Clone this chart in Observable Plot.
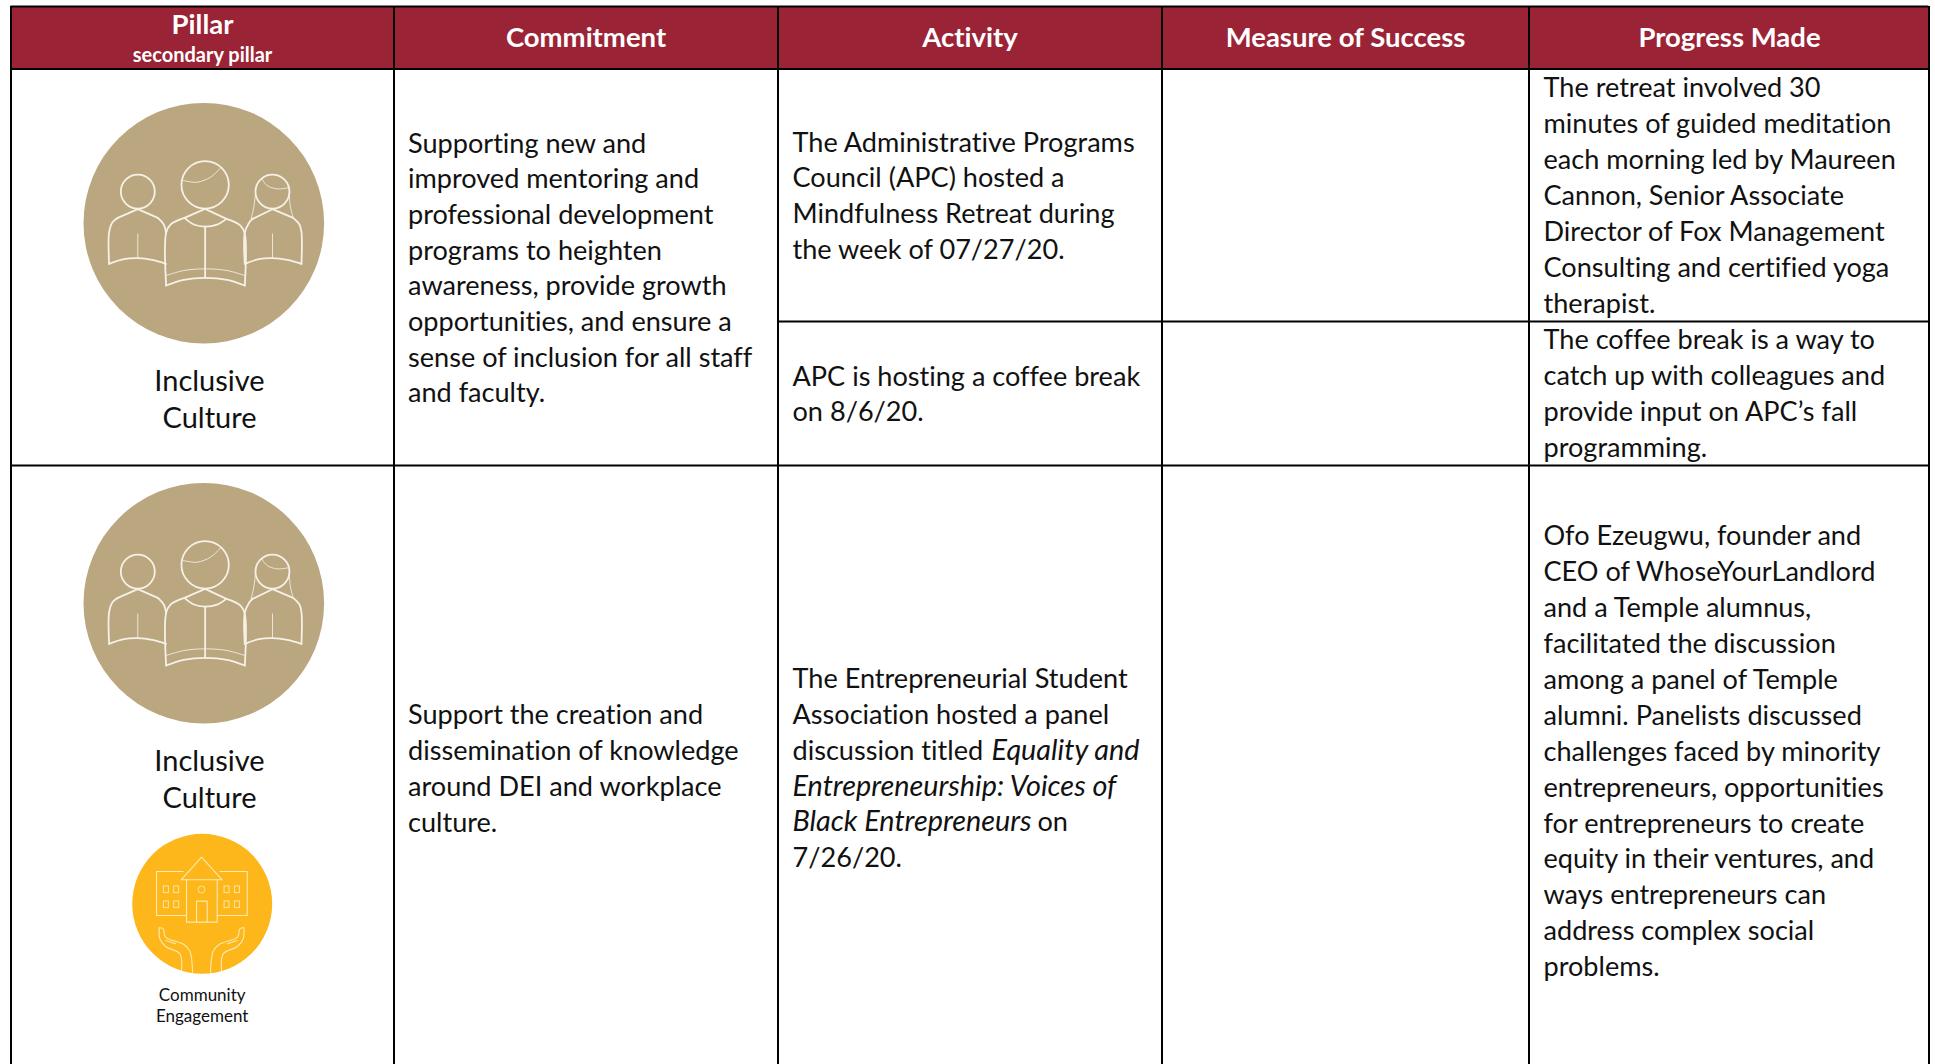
<!DOCTYPE html>
<html>
<head>
<meta charset="utf-8">
<script src="https://cdn.jsdelivr.net/npm/d3@7"></script>
<script src="https://cdn.jsdelivr.net/npm/@observablehq/plot@0.6"></script>
<style>
html,body{margin:0;padding:0;background:#fff;overflow:hidden}
svg{display:block;font-variant-ligatures:none}
</style>
</head>
<body>
<div id="chart"></div>
<script>
// ---- table content ----
const headers = ["Pillar", "Commitment", "Activity", "Measure of Success", "Progress Made"];
const subHeader = "secondary pillar";
const primaryPillar = ["Inclusive", "Culture"];
const secondaryPillar = ["Community", "Engagement"];

const commitmentA = ["Supporting new and", "improved mentoring and", "professional development", "programs to heighten",
  "awareness, provide growth", "opportunities, and ensure a", "sense of inclusion for all staff", "and faculty."];
const commitmentB = ["Support the creation and", "dissemination of knowledge", "around DEI and workplace", "culture."];

const activityA = ["The Administrative Programs", "Council (APC) hosted a", "Mindfulness Retreat during", "the week of 07/27/20."];
const activityB = ["APC is hosting a coffee break", "on 8/6/20."];
const activityC = ["The Entrepreneurial Student", "Association hosted a panel", "discussion titled", null, null, "7/26/20."];
const activityCItalic = [null, null, null, "Entrepreneurship: Voices of", "Black Entrepreneurs", null];

const progressA = ["The retreat involved 30", "minutes of guided meditation", "each morning led by Maureen", "Cannon, Senior Associate",
  "Director of Fox Management", "Consulting and certified yoga", "therapist."];
const progressB = ["The coffee break is a way to", "catch up with colleagues and", "provide input on APC\u2019s fall", "programming."];
const progressC = ["Ofo Ezeugwu, founder and", "CEO of WhoseYourLandlord", "and a Temple alumnus,", "facilitated the discussion",
  "among a panel of Temple", "alumni. Panelists discussed", "challenges faced by minority", "entrepreneurs, opportunities",
  "for entrepreneurs to create", "equity in their ventures, and", "ways entrepreneurs can", "address complex social", "problems."];

// ---- page geometry of the table ----
const W = 1935, H = 1064;
const colEdges = [10.5, 393.5, 777.5, 1161.5, 1528.5, 1928.5];
const headerTop = 6, headerBottom = 68.5, rowSplit = 321, rowEnd = 465;
const headerCentres = [202, 585.5, 969.5, 1345, 1729];
const headerBaselines = [33, 46.5, 46.5, 46.5, 46.5];
const leading = 35.9;
const ink = "#111";
const font = "Lato";
const bodySize = 27.1;

const rows = (lines, x, y0, lh = leading) => lines.map((text, i) => ({x, y: y0 + i * lh, text})).filter(d => d.text);

const bodyLines = [
  ...rows(commitmentA, 407.5, 152, 35.7),
  ...rows(commitmentB, 407.5, 723.3),
  ...rows(activityA, 792, 151),
  ...rows(activityB, 792, 385),
  ...rows(activityC, 792, 687.3),
  ...rows(progressA, 1543, 96.7),
  ...rows(progressB, 1543, 348.7),
  ...rows(progressC, 1543, 544.8)
];
const italicLines = [
  ...rows(activityCItalic, 792, 687.3),
  {x: 991, y: 687.3 + 2 * leading, text: "Equality and"}
];
const tailLines = [{x: 1037, y: 687.3 + 4 * leading, text: "on"}];

const verticals = colEdges.map(x => ({x, y1: headerTop, y2: H}));
const horizontals = [
  {y: headerTop, x1: colEdges[0], x2: colEdges[5]},
  {y: headerBottom, x1: colEdges[0], x2: colEdges[5]},
  {y: rowEnd, x1: colEdges[0], x2: colEdges[5]},
  {y: rowSplit, x1: colEdges[2], x2: colEdges[5]}
];

// ---- pictogram outlines, in a local frame centred on each disc (3 units = 1 px) ----
const people = {
  thick: [
    [[326,790],[326,695],[336,665],[352,652]],
    [[352,652],[412,626]],
    [[412,626],[472,652]],
    [[472,652],[490,672],[497,697]],
    [[326,790],[370,776],[412,773],[455,778],[497,790]],
    [[497,855],[497,697],[510,672],[552,652]],
    [[552,652],[614,625]],
    [[614,625],[678,655]],
    [[678,655],[720,675],[733,700],[733,855]],
    [[497,855],[550,838],[614,832],[680,838],[733,855]],
    [[552,652],[580,672],[614,678],[650,672],[678,655]],
    [[614,678],[614,832]],
    [[733,790],[733,697],[745,668],[756,655]],
    [[756,655],[816,626]],
    [[816,626],[878,652]],
    [[878,652],[897,672],[903,695],[903,790]],
    [[733,790],[775,776],[816,773],[860,778],[903,790]]
  ],
  thin: [
    [[412,700],[412,773]],
    [[816,700],[816,773]],
    [[497,825],[550,810],[614,805],[680,810],[733,825]],
    [[548,540],[590,545],[630,530],[660,503]],
    [[784,535],[800,555],[830,565],[862,562]],
    [[765,580],[760,620],[752,655]],
    [[866,580],[870,620],[878,650]]
  ],
  heads: [[412,573,17],[614,553,23.7],[816,573,17]],
  centre: [610,668]
};
const handL1 = [[176,562],[178,595],[195,618],[238,640],[243,690]];
const handL2 = [[176,562],[188,565],[195,590],[250,612],[268,632],[276,695]];
const handL3 = [[196,600],[225,610]];
const mirror = p => p.map(([x, y]) => [606 - x, y]);
const campus = {
  straight: [
    [[248,393],[168,393],[168,525],[258,525]],
    [[358,393],[440,393],[440,525],[350,525]],
    [[258,418],[258,545],[350,545],[350,418]],
    [[242,418],[303,350],[365,418],[242,418]],
    [[288,545],[288,482],[320,482],[320,545]]
  ],
  curved: [handL1, handL2, handL3, mirror(handL1), mirror(handL2), mirror(handL3)],
  panes: [190,221,372,403].flatMap(x => [438,483].map(y => [x, y])),
  centre: [305,490]
};
const place = (paths, c, cx, cy) => paths.flatMap((p, i) => p.map(([x, y]) => ({
  x: cx + (x - c[0]) / 3, y: cy + (y - c[1]) / 3, id: `${cx}-${cy}-${i}`
})));

const tanDiscs = [{x: 203.3, y: 222.7}, {x: 203.3, y: 602.7}];
const gold = {x: 201.7, y: 903.3};
const thickPeople = tanDiscs.flatMap(d => place(people.thick, people.centre, d.x, d.y));
const thinPeople = tanDiscs.flatMap(d => place(people.thin, people.centre, d.x, d.y));
const heads = tanDiscs.flatMap(d => people.heads.map(([x, y, r]) => ({
  x: d.x + (x - people.centre[0]) / 3, y: d.y + (y - people.centre[1]) / 3, r
})));
const panes = campus.panes.map(([x, y]) => ({
  x1: gold.x + (x - 305) / 3, x2: gold.x + (x + 15 - 305) / 3,
  y1: gold.y + (y - 490) / 3, y2: gold.y + (y + 20 - 490) / 3
}));

const pillarLabels = [
  {x: 209, y: 390.7, text: primaryPillar[0]},
  {x: 209, y: 427.2, text: primaryPillar[1]},
  {x: 209, y: 770.7, text: primaryPillar[0]},
  {x: 209, y: 807.2, text: primaryPillar[1]}
];
const secondaryLabels = [
  {x: 201.7, y: 1000, text: secondaryPillar[0]},
  {x: 201.7, y: 1021, text: secondaryPillar[1]}
];
const headerRows = headers.map((text, i) => ({x: headerCentres[i], y: headerBaselines[i], text}));

const text = (data, o) => Plot.text(data, {x: "x", y: "y", text: "text", lineAnchor: "bottom", fontFamily: font, fill: ink, ...o});
const strokeCol = "#F6F1E7";

const chart = Plot.plot({
  width: W,
  height: H,
  margin: 0,
  style: {background: "#fff", overflow: "hidden"},
  x: {domain: [0, W], range: [0, W], axis: null},
  y: {domain: [0, H], range: [0, H], axis: null},
  r: {type: "identity"},
  marks: [
    Plot.rect([0], {x1: colEdges[0], x2: colEdges[5], y1: headerTop, y2: headerBottom, fill: "#9B2336"}),
    Plot.ruleX(verticals, {x: "x", y1: "y1", y2: "y2", stroke: "#000", strokeWidth: 2}),
    Plot.ruleY(horizontals, {y: "y", x1: "x1", x2: "x2", stroke: "#000", strokeWidth: 2}),

    Plot.dot(tanDiscs, {x: "x", y: "y", r: 120.3, fill: "#BAA67F"}),
    Plot.dot([gold], {x: "x", y: "y", r: 70, fill: "#FDB71A"}),
    Plot.line(thickPeople, {x: "x", y: "y", z: "id", curve: "catmull-rom", stroke: strokeCol, strokeWidth: 1.8}),
    Plot.line(thinPeople, {x: "x", y: "y", z: "id", curve: "catmull-rom", stroke: strokeCol, strokeWidth: 1, strokeOpacity: 0.85}),
    Plot.dot(heads, {x: "x", y: "y", r: "r", stroke: strokeCol, strokeWidth: 1.8, fill: "none"}),
    Plot.line(place(campus.straight, campus.centre, gold.x, gold.y), {x: "x", y: "y", z: "id", stroke: "#FEE9B0", strokeWidth: 1.1}),
    Plot.line(place(campus.curved, campus.centre, gold.x, gold.y).map(d => ({...d, id: d.id + "c"})), {x: "x", y: "y", z: "id", curve: "catmull-rom", stroke: "#FEE9B0", strokeWidth: 1.1}),
    Plot.rect(panes, {x1: "x1", x2: "x2", y1: "y1", y2: "y2", fill: "none", stroke: "#FEE9B0", strokeWidth: 0.9}),
    Plot.dot([gold], {x: d => d.x - 0.7, y: d => d.y - 14.3, r: 3.5, stroke: "#FEE9B0", strokeWidth: 0.9, fill: "none"}),

    text(headerRows, {textAnchor: "middle", fontWeight: 700, fontSize: 27.5, fill: "#fff"}),
    text([{x: 202, y: 61.7, text: subHeader}], {textAnchor: "middle", fontWeight: 700, fontSize: 20, fill: "#fff"}),
    text(pillarLabels, {textAnchor: "middle", fontSize: 29}),
    text(secondaryLabels, {textAnchor: "middle", fontSize: 17}),
    text(bodyLines, {textAnchor: "start", fontSize: bodySize}),
    text(tailLines, {textAnchor: "start", fontSize: bodySize}),
    text(italicLines, {textAnchor: "start", fontSize: 28.8, fontStyle: "italic"})
  ]
});
document.getElementById("chart").append(chart);
</script>
</body>
</html>
